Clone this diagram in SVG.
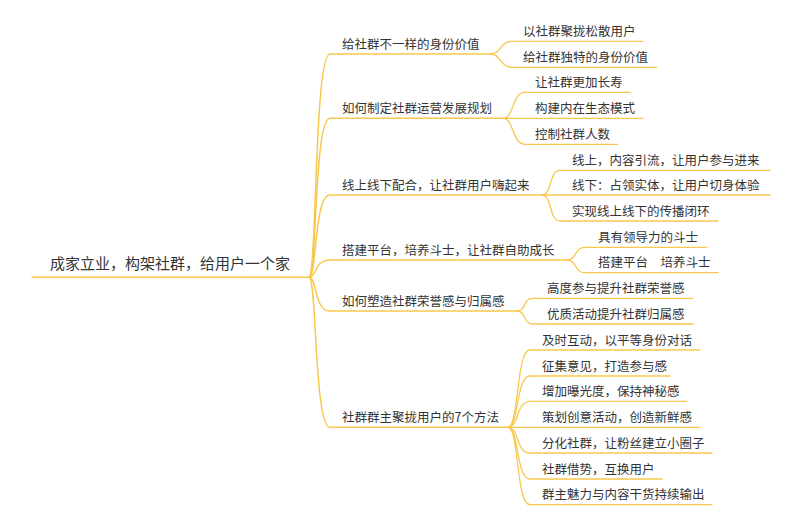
<svg xmlns="http://www.w3.org/2000/svg" width="800" height="525" viewBox="0 0 800 525">
<style>
text{font-family:"Noto Sans CJK SC","Noto Sans",sans-serif;fill:#333;}
.root{font-size:15px;}
.t{font-size:12.5px;}
.ln{fill:none;stroke:#F9C74F;stroke-width:1.3;stroke-linecap:round;}
.bl{fill:none;stroke:#F9C74F;stroke-width:1.5;stroke-linecap:round;}
</style>
<rect width="800" height="525" fill="#fff"/>
<g id="connectors">
<path class="bl" d="M32,277.3 H309"/>
<path class="bl" d="M309,277.3 C317,277.3 314,54 330,54 H491"/>
<path class="bl" d="M309,277.3 C317,277.3 314,118.3 330,118.3 H503"/>
<path class="bl" d="M309,277.3 C317,277.3 314,195 330,195 H542"/>
<path class="bl" d="M309,277.3 C317,277.3 314,260 330,260 H567"/>
<path class="bl" d="M309,277.3 C317,277.3 314,311 330,311 H517"/>
<path class="bl" d="M309,277.3 C317,277.3 314,427.3 330,427.3 H508"/>
<path class="ln" d="M491,54 C501,54 500,41.3 512,41.3 H643"/>
<path class="ln" d="M491,54 C501,54 500,67.3 512,67.3 H657"/>
<path class="ln" d="M503,118.3 C514,118.3 512,92.3 525,92.3 H630"/>
<path class="ln" d="M503,118.3 H643"/>
<path class="ln" d="M503,118.3 C514,118.3 512,144.3 525,144.3 H618"/>
<path class="ln" d="M542,195 C552,195 549,170.3 560,170.3 H770"/>
<path class="ln" d="M542,195 H770"/>
<path class="ln" d="M542,195 C552,195 549,221 560,221 H718"/>
<path class="ln" d="M567,260 C577,260 574,247.3 585,247.3 H707"/>
<path class="ln" d="M567,260 C577,260 574,272.7 585,272.7 H718"/>
<path class="ln" d="M517,311 C526,311 523,298.3 533,298.3 H693"/>
<path class="ln" d="M517,311 C526,311 523,324 533,324 H693"/>
<path class="ln" d="M508,427.3 C519,427.3 516,350 530,350 H700"/>
<path class="ln" d="M508,427.3 C519,427.3 516,376 530,376 H670"/>
<path class="ln" d="M508,427.3 C519,427.3 516,401.3 530,401.3 H687"/>
<path class="ln" d="M508,427.3 H700"/>
<path class="ln" d="M508,427.3 C519,427.3 516,453 530,453 H712"/>
<path class="ln" d="M508,427.3 C519,427.3 516,479 530,479 H662"/>
<path class="ln" d="M508,427.3 C519,427.3 516,504.7 530,504.7 H712"/>
</g>
<g id="root"><text class="root" x="50" y="269">成家立业，构架社群，给用户一个家</text></g>
<g id="b1"><text class="t" x="342" y="48.5">给社群不一样的身份价值</text></g>
<g id="b1l1"><text class="t" x="523" y="36">以社群聚拢松散用户</text></g>
<g id="b1l2"><text class="t" x="523" y="62">给社群独特的身份价值</text></g>
<g id="b2"><text class="t" x="342" y="112.8">如何制定社群运营发展规划</text></g>
<g id="b2l1"><text class="t" x="535" y="87">让社群更加长寿</text></g>
<g id="b2l2"><text class="t" x="535" y="113">构建内在生态模式</text></g>
<g id="b2l3"><text class="t" x="535" y="139">控制社群人数</text></g>
<g id="b3"><text class="t" x="342" y="189.5">线上线下配合，让社群用户嗨起来</text></g>
<g id="b3l1"><text class="t" x="572" y="165">线上，内容引流，让用户参与进来</text></g>
<g id="b3l2"><text class="t" x="572" y="190">线下：占领实体，让用户切身体验</text></g>
<g id="b3l3"><text class="t" x="572" y="215.5">实现线上线下的传播闭环</text></g>
<g id="b4"><text class="t" x="342" y="254.5">搭建平台，培养斗士，让社群自助成长</text></g>
<g id="b4l1"><text class="t" x="598" y="242">具有领导力的斗士</text></g>
<g id="b4l2"><text class="t" x="598" y="267.3">搭建平台　培养斗士</text></g>
<g id="b5"><text class="t" x="342" y="305.5">如何塑造社群荣誉感与归属感</text></g>
<g id="b5l1"><text class="t" x="547" y="293">高度参与提升社群荣誉感</text></g>
<g id="b5l2"><text class="t" x="547" y="318.5">优质活动提升社群归属感</text></g>
<g id="b6"><text class="t" x="342" y="421.8">社群群主聚拢用户的7个方法</text></g>
<g id="b6l1"><text class="t" x="542" y="344.5">及时互动，以平等身份对话</text></g>
<g id="b6l2"><text class="t" x="542" y="370.5">征集意见，打造参与感</text></g>
<g id="b6l3"><text class="t" x="542" y="396">增加曝光度，保持神秘感</text></g>
<g id="b6l4"><text class="t" x="542" y="422">策划创意活动，创造新鲜感</text></g>
<g id="b6l5"><text class="t" x="542" y="447.5">分化社群，让粉丝建立小圈子</text></g>
<g id="b6l6"><text class="t" x="542" y="473.5">社群借势，互换用户</text></g>
<g id="b6l7"><text class="t" x="542" y="499">群主魅力与内容干货持续输出</text></g>
</svg>
